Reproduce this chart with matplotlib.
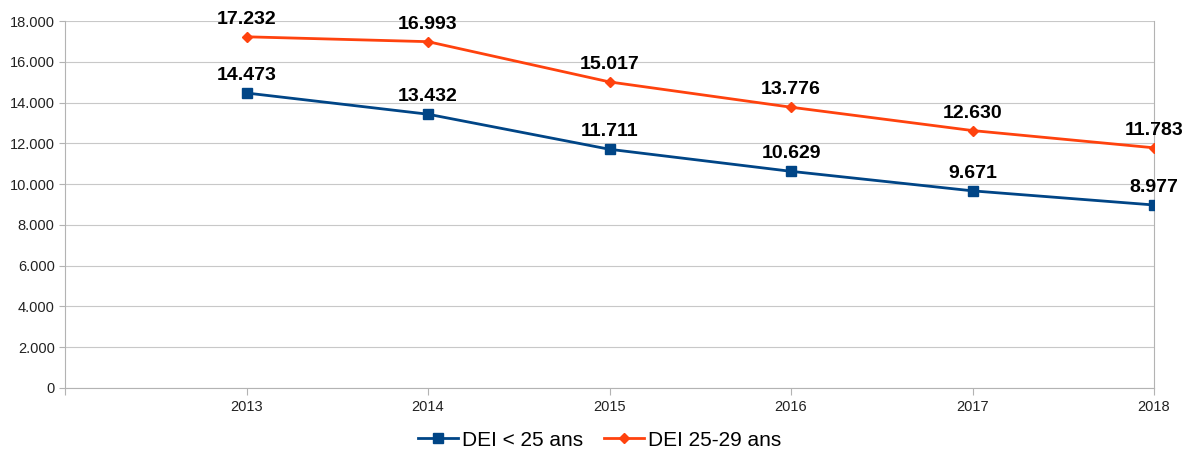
import matplotlib.pyplot as plt
from matplotlib.ticker import FuncFormatter

plt.rcParams['font.family'] = ['Liberation Sans', 'DejaVu Sans']

annees = [2013, 2014, 2015, 2016, 2017, 2018]
dei_moins_25 = [14473, 13432, 11711, 10629, 9671, 8977]
dei_25_29 = [17232, 16993, 15017, 13776, 12630, 11783]

bleu = '#004586'
orange = '#ff420e'


def milliers(v, pos=None):
    return f"{int(v):,}".replace(",", ".")


fig = plt.figure(figsize=(11.83, 4.5), dpi=100)
ax = fig.add_axes([0.055, 0.138, 0.9205, 0.815])

ax.plot(annees, dei_moins_25, color=bleu, linewidth=2.0, marker='s', markersize=7,
        label='DEI < 25 ans', zorder=3)
ax.plot(annees, dei_25_29, color=orange, linewidth=2.0, marker='D', markersize=5.5,
        label='DEI 25-29 ans', zorder=3)

# étiquettes de valeurs
for serie in (dei_moins_25, dei_25_29):
    for x, y in zip(annees, serie):
        ax.annotate(milliers(y), (x, y), xytext=(0, 12.5), textcoords='offset points',
                    ha='center', va='center', fontsize=14, fontweight='bold', color='black')

ax.set_xlim(2012, 2018)
ax.set_ylim(0, 18000)
ax.set_yticks(range(0, 18001, 2000))
ax.yaxis.set_major_formatter(FuncFormatter(milliers))
ax.set_xticks([2012] + annees)
ax.set_xticklabels([''] + [str(a) for a in annees])

ax.grid(axis='y', color='#c8c8c8', linewidth=0.8)
ax.set_axisbelow(True)
ax.spines['top'].set_visible(False)
for s in ('left', 'bottom', 'right'):
    ax.spines[s].set_color('#b3b3b3')
ax.tick_params(axis='both', colors='#b3b3b3', labelcolor='#222222', labelsize=10.5, length=5)
ax.tick_params(axis='y', length=4)

fig.legend(*ax.get_legend_handles_labels(), loc='center', bbox_to_anchor=(0.507, 0.022),
           ncol=2, frameon=False, fontsize=15, handlelength=1.9, handletextpad=0.2,
           columnspacing=1.0)

fig.savefig('out.png', dpi=100)
